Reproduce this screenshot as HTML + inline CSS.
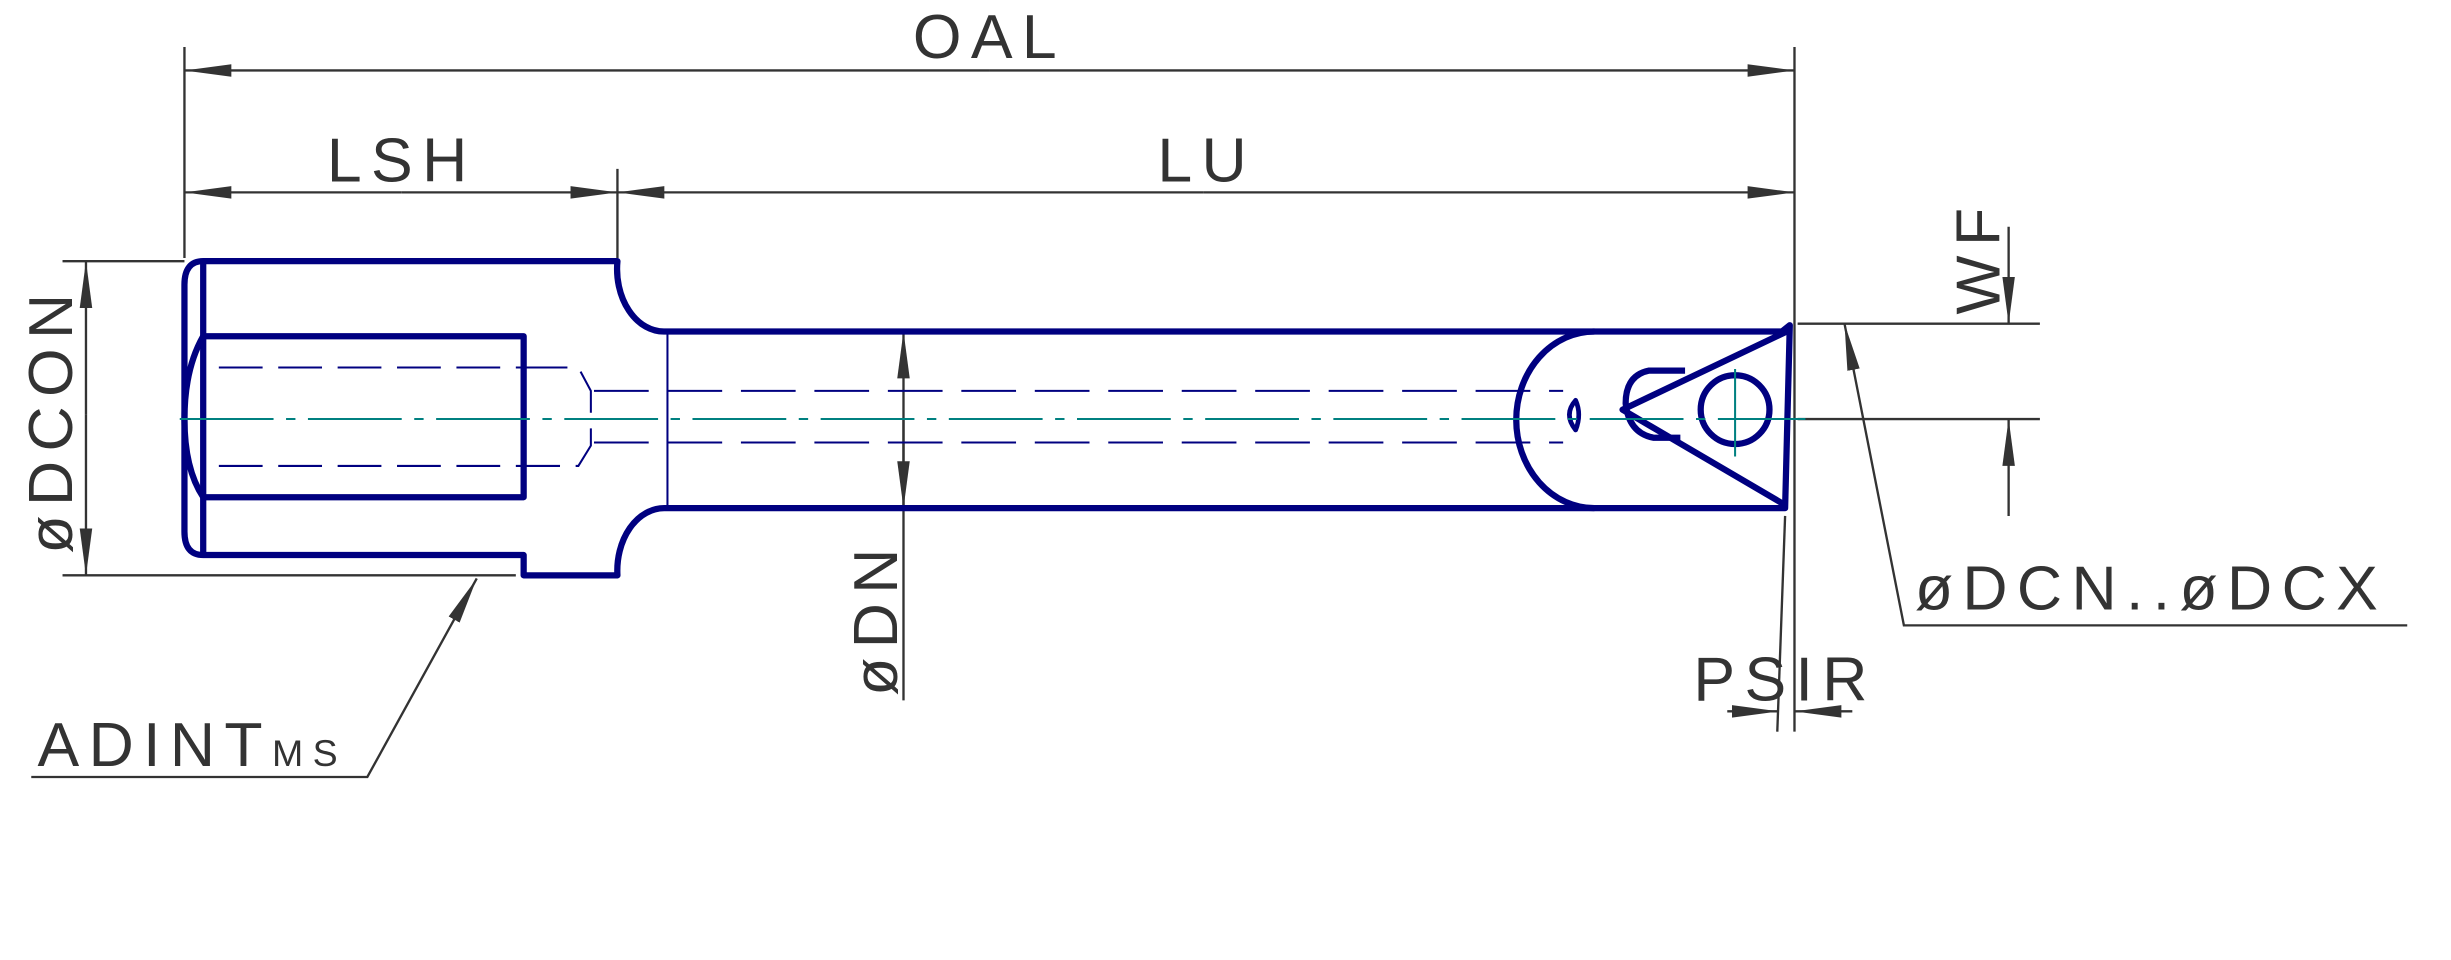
<!DOCTYPE html>
<html><head><meta charset="utf-8"><style>
html,body{margin:0;padding:0;background:#fff;}
svg{display:block;}
text{font-family:"Liberation Sans",sans-serif;fill:#333;letter-spacing:6px;}
</style></head><body>
<svg width="2451" height="960" viewBox="0 0 1568 614" xmlns="http://www.w3.org/2000/svg">
<defs>
<marker id="a" viewBox="0 0 30 10" refX="30" refY="5" markerWidth="30" markerHeight="10" markerUnits="userSpaceOnUse" orient="auto"><path d="M0,1 L30,5 L0,9 Z" fill="#333"/></marker>
</defs>
<g stroke="#333" stroke-width="1.5" fill="none">
<line x1="118" y1="30" x2="118" y2="165"/>
<line x1="1148" y1="30" x2="1148" y2="205"/>
<line x1="395" y1="108" x2="395" y2="165"/>
<line x1="633" y1="45" x2="118" y2="45" marker-end="url(#a)"/>
<line x1="633" y1="45" x2="1148" y2="45" marker-end="url(#a)"/>
<line x1="257" y1="123" x2="118" y2="123" marker-end="url(#a)"/>
<line x1="257" y1="123" x2="395" y2="123" marker-end="url(#a)"/>
<line x1="770" y1="123" x2="395" y2="123" marker-end="url(#a)"/>
<line x1="770" y1="123" x2="1148" y2="123" marker-end="url(#a)"/>
<line x1="40" y1="167" x2="118" y2="167"/>
<line x1="40" y1="368" x2="330" y2="368"/>
<line x1="55" y1="265" x2="55" y2="167" marker-end="url(#a)"/>
<line x1="55" y1="265" x2="55" y2="368" marker-end="url(#a)"/>
<line x1="578" y1="448" x2="578" y2="212" marker-end="url(#a)"/>
<line x1="578" y1="268" x2="578" y2="325" marker-end="url(#a)"/>
<polyline points="20,497 235,497 305,370" marker-end="url(#a)"/>
<line x1="1150" y1="207" x2="1305" y2="207"/>
<line x1="1150" y1="268" x2="1305" y2="268"/>
<line x1="1285" y1="145" x2="1285" y2="207" marker-end="url(#a)"/>
<line x1="1285" y1="330" x2="1285" y2="268" marker-end="url(#a)"/>
<polyline points="1540,400 1218,400 1180,207" marker-end="url(#a)"/>
<line x1="1142" y1="330" x2="1137" y2="468"/>
<line x1="1148" y1="205" x2="1148" y2="468"/>
<line x1="1105" y1="455" x2="1138" y2="455" marker-end="url(#a)"/>
<line x1="1185" y1="455" x2="1148" y2="455" marker-end="url(#a)"/>
</g>
<g stroke="#000080" stroke-width="4" fill="none" stroke-linejoin="round">
<path d="M130,167 L395,167 A30,40 0 0 0 425,212 L1140,212 L1145,208 L1142,325 L425,325 A30,40 0 0 0 395,368 L335,368 L335,355 L130,355 Q118,355 118,340 L118,182 Q118,167 130,167 Z"/>
<line x1="130" y1="167" x2="130" y2="355"/>
<path d="M130,215 L335,215 L335,318 L130,318 Q118,300 118,268 Q118,236 130,215 Z"/>
<path d="M1020,212 A50,56.5 0 0 0 1020,325"/>
<path d="M1143,212 L1038,262 L1142,323"/>
<path d="M1078,237 L1055,237 Q1040,240 1040,258 Q1042,277 1058,280 L1075,280"/>
<circle cx="1110" cy="262" r="22"/>
<path d="M1008,256 Q1000,265 1008,275 Q1012,265 1008,256 Z" stroke-width="3"/>
</g>
<g stroke="#000080" stroke-width="1.3" fill="none">
<line x1="427" y1="212" x2="427" y2="325"/>
<path d="M140,235 H335 M140,298 H335 M335,235 H370 L378,250 V285 L370,298 H335" stroke-dasharray="28,10"/>
<path d="M380,250 H1000 M380,283 H1000" stroke-dasharray="35,12"/>
</g>
<g stroke="#008080" stroke-width="1.3" fill="none">
<line x1="115" y1="268" x2="1155" y2="268" stroke-dasharray="60,8,6,8"/>
<line x1="1110" y1="236" x2="1110" y2="292"/>
</g>
<g font-size="40">
<text x="633" y="37" text-anchor="middle">OAL</text>
<text x="257" y="116" text-anchor="middle">LSH</text>
<text x="772" y="116" text-anchor="middle">LU</text>
<text x="1142" y="448" text-anchor="middle">PSIR</text>
<text x="1225" y="390">øDCN..øDCX</text>
<text x="24" y="490">ADINT<tspan font-size="24">MS</tspan></text>
<text transform="translate(46,268) rotate(-90)" text-anchor="middle">øDCON</text>
<text transform="translate(574,395) rotate(-90)" text-anchor="middle">øDN</text>
<text transform="translate(1279,164) rotate(-90)" text-anchor="middle">WF</text>
</g>
</svg>
</body></html>
